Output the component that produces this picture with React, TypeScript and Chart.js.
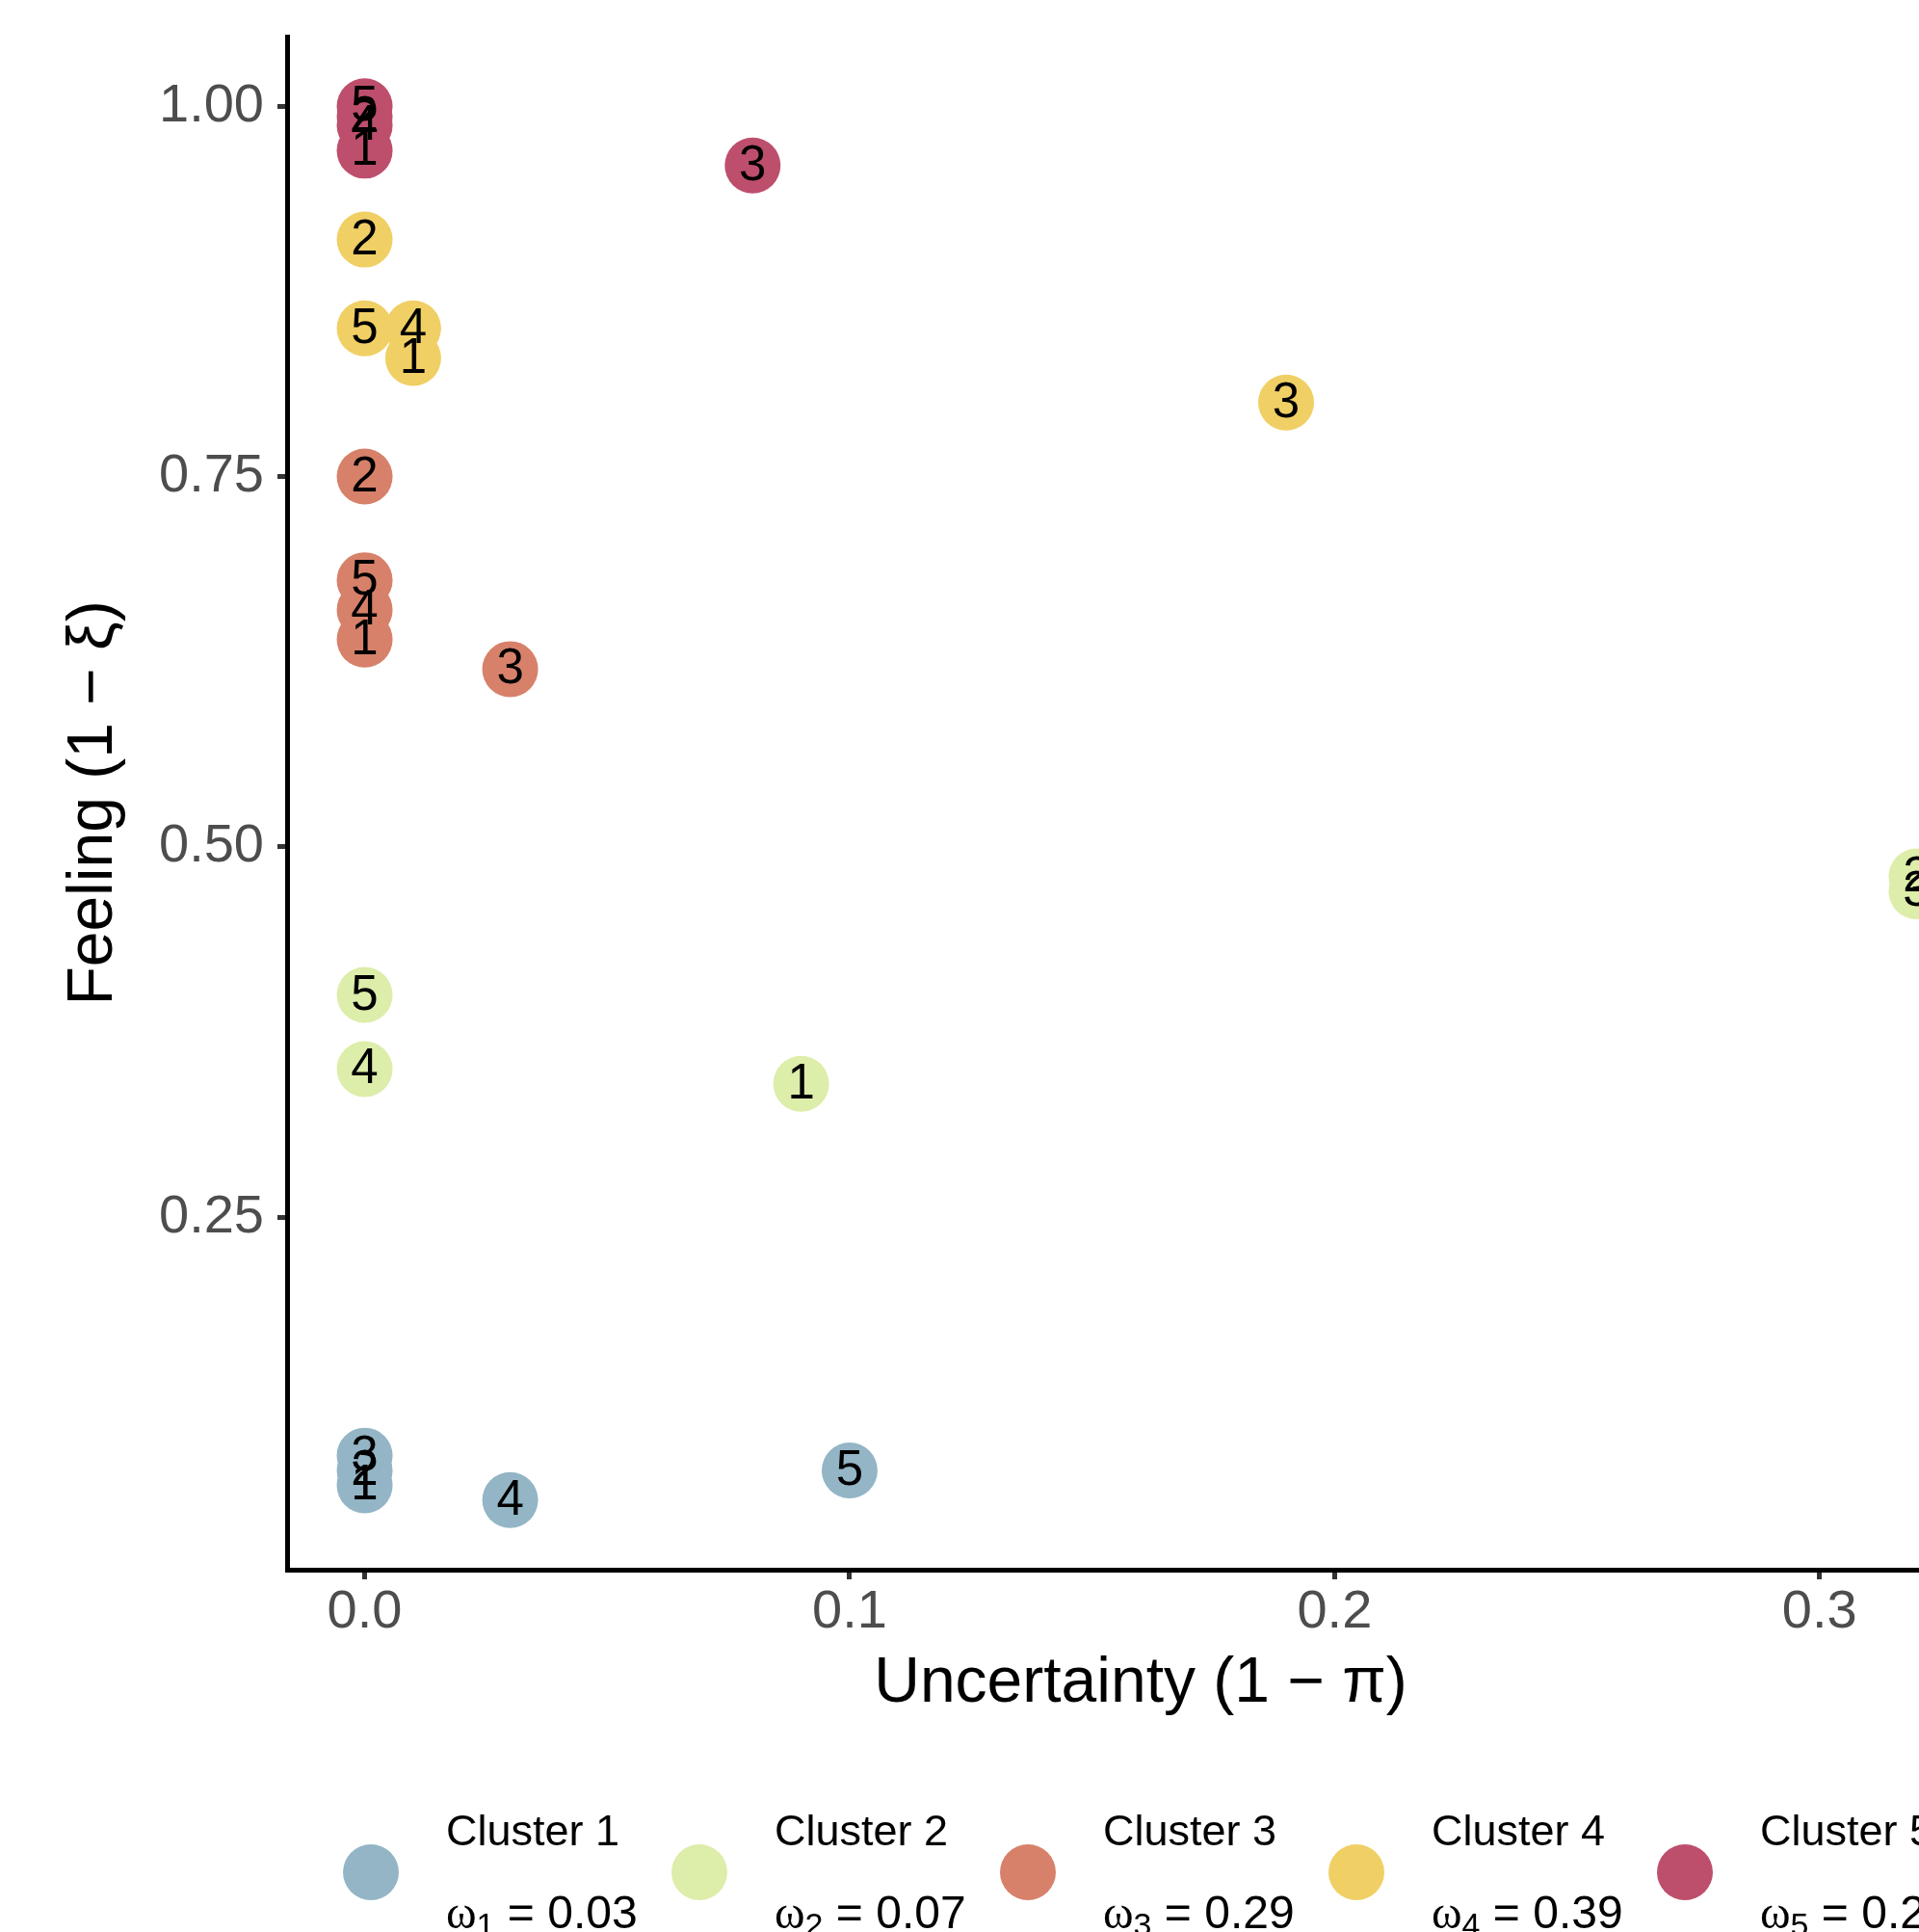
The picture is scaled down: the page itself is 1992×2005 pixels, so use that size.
import React, { useEffect, useRef } from "react";
import { Chart, registerables } from "chart.js";

Chart.register(...registerables);

// ---- data ----
const pointLabels = ["1", "2", "3", "4", "5"];
const clusterNames = ["Cluster 1", "Cluster 2", "Cluster 3", "Cluster 4", "Cluster 5"];
const clusterWeights = [0.03, 0.07, 0.29, 0.39, 0.22];
const clusterColors = ["#93B5C6", "#DDEDAA", "#D7816A", "#F0CF65", "#BD4F6C"];

const cluster1X = [0, 0, 0, 0.03, 0.1];
const cluster1Y = [0.069, 0.079, 0.089, 0.059, 0.079];
const cluster2X = [0.09, 0.32, 0.32, 0, 0];
const cluster2Y = [0.34, 0.48, 0.47, 0.35, 0.4];
const cluster3X = [0, 0, 0.03, 0, 0];
const cluster3Y = [0.64, 0.75, 0.62, 0.66, 0.68];
const cluster4X = [0.01, 0, 0.19, 0.01, 0];
const cluster4Y = [0.83, 0.91, 0.8, 0.85, 0.85];
const cluster5X = [0, 0, 0.08, 0, 0];
const cluster5Y = [0.97, 0.993, 0.96, 0.987, 1.0];

const clusterXs = [cluster1X, cluster2X, cluster3X, cluster4X, cluster5X];
const clusterYs = [cluster1Y, cluster2Y, cluster3Y, cluster4Y, cluster5Y];

const xTicks = [0, 0.1, 0.2, 0.3];
const xTickLabels = ["0.0", "0.1", "0.2", "0.3"];
const yTicks = [0.25, 0.5, 0.75, 1.0];
const yTickLabels = ["0.25", "0.50", "0.75", "1.00"];

const xTitle = "Uncertainty (1 \u2212 \u03C0)";
const yTitle = "Feeling (1 \u2212 \u03BE)";

// ---- style ----
const SANS = "'Liberation Sans', Arial, Helvetica, sans-serif";
const SERIF = "'Liberation Serif', 'Times New Roman', serif";
const W = 2100;
const H = 2005;

const pointLabelPlugin = {
  id: "pointLabels",
  afterDatasetsDraw(chart: any) {
    const ctx = chart.ctx;
    ctx.save();
    ctx.font = `51px ${SANS}`;
    ctx.fillStyle = "#000000";
    ctx.textAlign = "center";
    ctx.textBaseline = "middle";
    chart.data.datasets.forEach((_ds: any, i: number) => {
      const meta = chart.getDatasetMeta(i);
      meta.data.forEach((el: any, j: number) => {
        ctx.fillText(pointLabels[j], el.x, el.y + 1);
      });
    });
    ctx.restore();
  },
};

const legendPlugin = {
  id: "clusterLegend",
  afterDraw(chart: any) {
    const ctx = chart.ctx;
    const area = chart.chartArea;
    const center = (area.left + area.right) / 2;
    const step = 341;
    const startX = center - 799;
    ctx.save();
    clusterNames.forEach((name, i) => {
      const cx = startX + i * step;
      const cy = 1943;
      ctx.beginPath();
      ctx.arc(cx, cy, 29, 0, Math.PI * 2);
      ctx.fillStyle = clusterColors[i];
      ctx.fill();
      const tx = cx + 78;
      ctx.fillStyle = "#000000";
      ctx.textAlign = "left";
      ctx.textBaseline = "alphabetic";
      ctx.font = `45px ${SANS}`;
      ctx.fillText(name, tx, 1915);
      ctx.font = `48px ${SERIF}`;
      ctx.fillText("\u03C9", tx, 2001);
      let w = ctx.measureText("\u03C9").width;
      ctx.font = `34px ${SANS}`;
      const sub = String(i + 1);
      ctx.fillText(sub, tx + w, 2009);
      w += ctx.measureText(sub).width;
      ctx.font = `48px ${SANS}`;
      ctx.fillText(" = " + clusterWeights[i].toFixed(2), tx + w, 2001);
    });
    ctx.restore();
  },
};

export default function App() {
  const ref = useRef<HTMLCanvasElement | null>(null);

  useEffect(() => {
    document.body.style.overflow = "hidden";
    const canvas = ref.current;
    if (!canvas) return;
    const chart = new Chart(canvas, {
      type: "scatter",
      data: {
        datasets: clusterNames.map((name, i) => ({
          label: name,
          data: clusterXs[i].map((x, j) => ({ x, y: clusterYs[i][j] })),
          backgroundColor: clusterColors[i],
          borderWidth: 0,
          pointRadius: 29,
          pointHoverRadius: 29,
        })),
      },
      options: {
        responsive: false,
        animation: false,
        events: [],
        layout: { padding: { left: 0, top: 38, right: 30, bottom: 0 } },
        plugins: {
          legend: { display: false },
          tooltip: { enabled: false },
        },
        scales: {
          x: {
            type: "linear",
            min: -0.016,
            max: 0.336,
            afterBuildTicks: (s: any) => {
              s.ticks = xTicks.map((v) => ({ value: v }));
            },
            afterFit: (s: any) => {
              s.height = 376;
              s.paddingLeft = 0;
              s.paddingRight = 0;
            },
            ticks: {
              callback: (_v: any, i: number) => xTickLabels[i],
              font: { family: SANS, size: 56 },
              color: "#4D4D4D",
              padding: 1,
              maxRotation: 0,
              autoSkip: false,
            },
            grid: {
              display: true,
              drawOnChartArea: false,
              drawTicks: true,
              tickLength: 10,
              tickWidth: 5,
              tickColor: "#333333",
            },
            border: { display: true, color: "#000000", width: 5 },
            title: {
              display: true,
              text: xTitle,
              font: { family: SANS, size: 66 },
              color: "#000000",
              padding: { top: 0, bottom: 218 },
            },
          },
          y: {
            type: "linear",
            min: 0.012,
            max: 1.047,
            afterBuildTicks: (s: any) => {
              s.ticks = yTicks.map((v) => ({ value: v }));
            },
            afterFit: (s: any) => {
              s.width = 298;
              s.paddingTop = 0;
              s.paddingBottom = 0;
            },
            ticks: {
              callback: (_v: any, i: number) => yTickLabels[i],
              font: { family: SANS, size: 56 },
              color: "#4D4D4D",
              padding: 14,
              autoSkip: false,
            },
            grid: {
              display: true,
              drawOnChartArea: false,
              drawTicks: true,
              tickLength: 10,
              tickWidth: 5,
              tickColor: "#333333",
            },
            border: { display: true, color: "#000000", width: 5 },
            title: {
              display: true,
              text: yTitle,
              font: { family: SANS, size: 66 },
              color: "#000000",
              padding: { top: 58, bottom: 0 },
            },
          },
        },
      },
      plugins: [pointLabelPlugin, legendPlugin],
    } as any);
    return () => chart.destroy();
  }, []);

  return (
    <div
      style={{
        position: "fixed",
        left: 0,
        top: 0,
        width: W,
        height: H,
        background: "#ffffff",
      }}
    >
      <canvas ref={ref} width={W} height={H} style={{ width: W, height: H, display: "block" }} />
    </div>
  );
}
